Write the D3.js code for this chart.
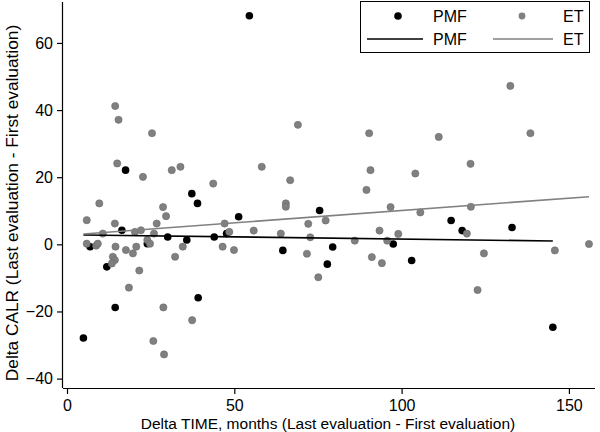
<!DOCTYPE html>
<html>
<head>
<meta charset="utf-8">
<script src="https://cdn.jsdelivr.net/npm/d3@7"></script>
<style>
  html, body { margin: 0; padding: 0; background: #fff; }
  svg { display: block; font-family: Arial, "Liberation Sans", sans-serif; }
</style>
</head>
<body>
<svg id="chart" width="600" height="432"></svg>
<script>
// PMF observations: [delta time (months), delta CALR]
const pmfX = [54.5, 17.5, 37.3, 39.0, 51.3, 75.5, 16.4, 30.1, 35.8, 44.0, 47.7, 6.9, 24.0, 11.9, 39.2, 14.4, 4.9, 64.5, 79.4, 97.5, 77.8, 103.0, 114.8, 118.1, 133.0, 145.2];
const pmfY = [68.1, 22.1, 15.1, 12.2, 8.2, 10.1, 4.2, 2.2, 1.3, 2.2, 3.2, -0.7, 0.2, -6.7, -15.9, -18.8, -27.9, -1.8, -0.8, 0.1, -5.9, -4.8, 7.1, 4.1, 5.0, -24.7];

// ET observations
const etX = [14.4, 15.4, 25.4, 15.0, 22.7, 31.3, 33.9, 43.7, 9.65, 28.7, 29.6, 5.9, 14.3, 26.8, 10.7, 20.3, 22.1, 26.0, 47.1, 48.5,
             5.9, 8.7, 9.2, 14.5, 17.6, 20.7, 19.7, 24.0, 24.8, 34.6, 32.3, 46.5, 49.9, 13.7, 14.3, 13.4, 21.6, 18.5, 28.8, 37.4,
             25.8, 29.0, 69.0, 90.3, 58.2, 90.7, 104.1, 66.7, 89.5, 65.4, 65.4, 96.7, 105.6, 55.8, 63.9, 72.1, 77.3, 72.7, 86.0, 93.4,
             95.7, 99.0, 71.7, 91.1, 94.1, 75.1, 132.5, 111.1, 138.5, 120.6, 120.7, 119.5, 124.6, 145.8, 156.0, 122.7];
const etY = [41.2, 37.1, 33.1, 24.1, 20.1, 22.1, 23.1, 18.1, 12.2, 11.1, 8.4, 7.2, 6.2, 6.2, 3.2, 3.7, 4.2, 3.2, 6.2, 3.7,
             0.2, -0.4, 0.2, -0.7, -1.7, -0.7, -2.7, 1.3, 0.2, -0.7, -3.7, -0.7, -1.7, -3.7, -4.7, -5.7, -7.8, -12.9, -18.8, -22.6,
             -28.8, -32.8, 35.6, 33.1, 23.1, 22.1, 21.1, 19.1, 16.2, 12.2, 11.2, 11.1, 9.5, 4.1, 3.2, 6.1, 7.1, 2.1, 1.1, 4.1,
             1.1, 3.1, -2.8, -3.8, -5.6, -9.8, 47.2, 32.0, 33.1, 24.0, 11.2, 3.2, -2.7, -1.8, 0.1, -13.6];

// Fitted lines (endpoints)
const pmfFitX = [4.9, 145.2];
const pmfFitY = [2.8, 1.0];
const etFitX = [4.9, 156.0];
const etFitY = [3.1, 14.2];

const xTicks = [0, 50, 100, 150];
const yTicks = [-40, -20, 0, 20, 40, 60];

const xTitle = "Delta TIME, months (Last evaluation - First evaluation)";
const yTitle = "Delta CALR (Last evaluation - First evaluation)";
const legendLabels = ["PMF", "ET"];

(function () {
const svg = d3.select("#chart");
const pL = 63, pR = 595, pT = 2, pB = 388;

const x = d3.scaleLinear().domain([-1.2, 157.8]).range([pL, pR]);
const y = d3.scaleLinear().domain([-42.8, 71.9]).range([pB, 3]);

const FS = 15.5;
const gray = "#808080";

// Axes
const xAxis = svg.append("g").attr("transform", `translate(0,${pB})`)
  .call(d3.axisBottom(x).tickValues(xTicks).tickSize(6).tickPadding(6).tickFormat(d3.format("d")));
const yAxis = svg.append("g").attr("transform", `translate(${pL},0)`)
  .call(d3.axisLeft(y).tickValues(yTicks).tickSize(6).tickPadding(4).tickFormat(d3.format("d")));
[xAxis, yAxis].forEach(g => {
  g.select(".domain").attr("stroke", "#000").attr("stroke-width", 1.2);
  g.selectAll(".tick line").attr("stroke", "#000").attr("stroke-width", 1.2);
  g.selectAll(".tick text").attr("fill", "#000").attr("font-size", 16).attr("font-family", "Arial, 'Liberation Sans', sans-serif");
});
xAxis.select(".domain").attr("d", `M${pL},0.5H${pR}`);
yAxis.select(".domain").attr("d", `M-0.5,${pT}V${pB}`);

// Axis titles
svg.append("text").attr("x", (pL + pR) / 2 - 1).attr("y", 429)
  .attr("text-anchor", "middle").attr("font-size", FS).text(xTitle);
svg.append("text").attr("transform", `translate(18,203) rotate(-90)`)
  .attr("text-anchor", "middle").attr("font-size", 17.3).text(yTitle);

// Points
const pmf = pmfX.map((v, i) => ({ x: v, y: pmfY[i] }));
const et = etX.map((v, i) => ({ x: v, y: etY[i] }));

svg.append("g").selectAll("circle").data(pmf).join("circle")
  .attr("cx", d => x(d.x)).attr("cy", d => y(d.y)).attr("r", 3.8)
  .attr("fill", "#000");
svg.append("g").selectAll("circle").data(et).join("circle")
  .attr("cx", d => x(d.x)).attr("cy", d => y(d.y)).attr("r", 3.6)
  .attr("fill", gray).attr("stroke", "#6a6a6a").attr("stroke-width", 0.6);

// Fit lines
const line = d3.line().x(d => x(d[0])).y(d => y(d[1]));
svg.append("path").datum(pmfFitX.map((v, i) => [v, pmfFitY[i]]))
  .attr("d", line).attr("fill", "none").attr("stroke", "#000").attr("stroke-width", 1.6);
svg.append("path").datum(etFitX.map((v, i) => [v, etFitY[i]]))
  .attr("d", line).attr("fill", "none").attr("stroke", gray).attr("stroke-width", 1.6);

// Legend
const lg = svg.append("g");
lg.append("rect").attr("x", 360.5).attr("y", 1.5).attr("width", 229).attr("height", 51)
  .attr("fill", "#fff").attr("stroke", "#000").attr("stroke-width", 1);
lg.append("circle").attr("cx", 398).attr("cy", 16).attr("r", 3.8).attr("fill", "#000");
lg.append("circle").attr("cx", 522).attr("cy", 16).attr("r", 3.4).attr("fill", gray);
lg.append("line").attr("x1", 367).attr("x2", 423).attr("y1", 39).attr("y2", 39)
  .attr("stroke", "#000").attr("stroke-width", 1.6);
lg.append("line").attr("x1", 493).attr("x2", 553).attr("y1", 39).attr("y2", 39)
  .attr("stroke", gray).attr("stroke-width", 1.6);
[[433, 16, legendLabels[0]], [563, 16, legendLabels[1]], [433, 39, legendLabels[0]], [563, 39, legendLabels[1]]]
  .forEach(([tx, ty, t]) => {
    lg.append("text").attr("x", tx).attr("y", ty).attr("dy", "0.36em")
      .attr("font-size", 16).attr("fill", "#000").text(t);
  });
})();
</script>
</body>
</html>
